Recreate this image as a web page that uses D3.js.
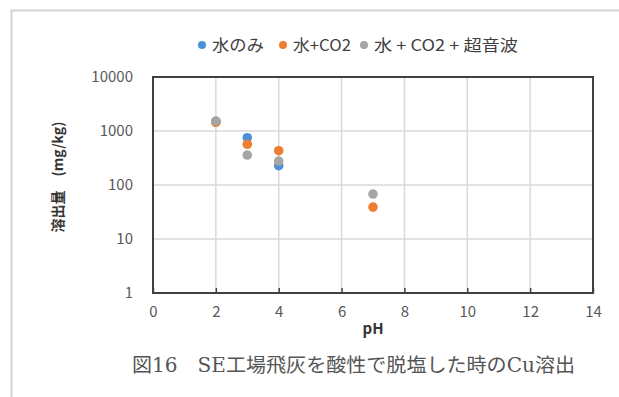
<!DOCTYPE html>
<head>
<meta charset="utf-8">
<script src="https://d3js.org/d3.v7.min.js"></script>
<style>
body { margin:0; background:#fff; }
text { font-family: "Noto Sans CJK JP", "Noto Sans", sans-serif; }
.grid line { stroke:#d9d9d9; stroke-width:1.5px; }
.tick text { fill:#595959; font-size:15px; }
</style>
</head>
<body>
<script>
// data
var seriesNames = ["水のみ", "水+CO2", "水 + CO2 + 超音波"];
var colors = ["#4a90d9", "#ed7d31", "#a5a5a5"];
var phWater = [2, 3, 4];
var cuWater = [1500, 750, 228];
var phCO2 = [2, 3, 4, 7];
var cuCO2 = [1450, 567, 432, 39];
var phSonic = [2, 3, 4, 7];
var cuSonic = [1530, 359, 278, 68];
var xTicks = [0, 2, 4, 6, 8, 10, 12, 14];
var yTicks = [1, 10, 100, 1000, 10000];

var series = [
  {ph: phWater, cu: cuWater},
  {ph: phCO2, cu: cuCO2},
  {ph: phSonic, cu: cuSonic}
];

var margin = {top: 77, left: 153},
    width = 440, height = 216;

var svg = d3.select("body").append("svg")
    .attr("width", 619)
    .attr("height", 397);

// outer frame (partly cut)
svg.append("path")
    .attr("d", "M11.5,397 V10.5 H619")
    .attr("fill", "none")
    .attr("stroke", "#d4d4d4")
    .attr("stroke-width", 2);

var g = svg.append("g")
    .attr("transform", "translate(" + margin.left + "," + margin.top + ")");

var x = d3.scaleLinear().domain([0, 14]).range([0, width]);
var y = d3.scaleLog().domain([1, 10000]).range([height, 0]);

// gridlines
g.append("g").attr("class", "grid")
  .selectAll("line").data(yTicks.slice(1, -1)).join("line")
    .attr("x1", 0).attr("x2", width)
    .attr("y1", d => y(d)).attr("y2", d => y(d));
g.append("g").attr("class", "grid")
  .selectAll("line").data(xTicks.slice(1, -1)).join("line")
    .attr("y1", 0).attr("y2", height)
    .attr("x1", d => x(d)).attr("x2", d => x(d));

// axes
var xAxis = g.append("g")
    .attr("transform", "translate(0," + height + ")")
    .call(d3.axisBottom(x).tickValues(xTicks).tickSize(-5).tickPadding(13).tickFormat(d3.format("d")));
xAxis.select(".domain").remove();
xAxis.selectAll(".tick line").attr("stroke", "#404040").attr("stroke-width", 1.5);
xAxis.selectAll(".tick text").attr("dy", "0.71em");

var yAxis = g.append("g")
    .call(d3.axisLeft(y).tickValues(yTicks).tickSize(0).tickPadding(20).tickFormat(d3.format("d")));
yAxis.select(".domain").remove();

// plot border
g.append("rect")
    .attr("width", width).attr("height", height)
    .attr("fill", "none")
    .attr("stroke", "#404040")
    .attr("stroke-width", 2);

// points
series.forEach((s, i) => {
  g.append("g").selectAll("circle")
    .data(s.ph.map((p, j) => ({ph: p, cu: s.cu[j]})))
    .join("circle")
      .attr("cx", d => x(d.ph))
      .attr("cy", d => y(d.cu))
      .attr("r", 4.8)
      .attr("fill", colors[i]);
});

// axis titles
svg.append("text")
    .attr("x", 373).attr("y", 334)
    .attr("text-anchor", "middle")
    .attr("font-size", 15).attr("font-weight", "bold")
    .attr("fill", "#333")
    .text("pH");

svg.append("text")
    .attr("transform", "translate(63,177) rotate(-90)")
    .attr("text-anchor", "middle")
    .attr("font-size", 14).attr("font-weight", "bold")
    .attr("fill", "#333")
    .text("溶出量　(mg/kg)");

// legend
var legendX = [202, 283, 364];
var legendW = [52, 58, 144];
var legend = svg.append("g");
seriesNames.forEach((name, i) => {
  legend.append("circle")
    .attr("cx", legendX[i]).attr("cy", 45).attr("r", 4)
    .attr("fill", colors[i]);
  legend.append("text")
    .attr("x", legendX[i] + 10).attr("y", 51)
    .attr("font-size", 16)
    .attr("fill", "#404040")
    .attr("textLength", legendW[i])
    .attr("lengthAdjust", "spacingAndGlyphs")
    .text(name);
});

// caption
svg.append("text")
    .attr("x", 132).attr("y", 372)
    .attr("font-size", 19.5)
    .attr("fill", "#555")
    .attr("textLength", 443)
    .attr("lengthAdjust", "spacingAndGlyphs")
    .style("font-family", "'DejaVu Serif', 'Noto Sans CJK JP', serif")
    .text("図16　SE工場飛灰を酸性で脱塩した時のCu溶出");
</script>
</body>
